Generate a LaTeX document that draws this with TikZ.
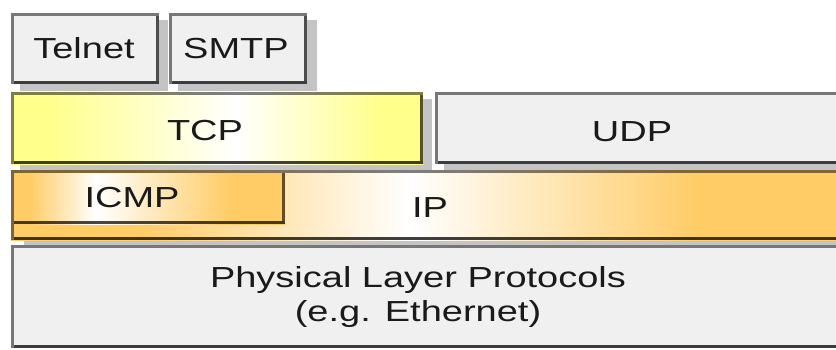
\documentclass[tikz,border=0pt]{standalone}
\usepackage{fontspec}
\setmainfont{Liberation Sans}
\usepackage{graphicx}
\definecolor{boxgray}{HTML}{F0F0F0}
\definecolor{shadowgray}{HTML}{C4C4C4}
\definecolor{tcpyellow}{HTML}{FFFF8C}
\definecolor{iporange}{HTML}{FFCC66}
\definecolor{txt}{HTML}{1A1A1A}
\pgfdeclarehorizontalshading{tcpshade}{100bp}{color(0bp)=(tcpyellow); color(29.7bp)=(tcpyellow); color(52.2bp)=(white); color(69.8bp)=(tcpyellow); color(100bp)=(tcpyellow)}
\pgfdeclarehorizontalshading{ipshade}{100bp}{color(0bp)=(iporange); color(32.7bp)=(iporange); color(48.8bp)=(white); color(66.1bp)=(iporange); color(100bp)=(iporange)}
\pgfdeclarehorizontalshading{icmpshade}{100bp}{color(0bp)=(iporange); color(27.9bp)=(iporange); color(40.1bp)=(white); color(64.8bp)=(iporange); color(100bp)=(iporange)}
\newcommand{\widetext}[1]{\scalebox{1.31}[1]{#1}}
% bevelled border: x1,y1,x2,y2
\newcommand{\bevelbox}[4]{%
  \fill[black,opacity=0.5] (#1,#2) rectangle ++(3,#4-#2);
  \fill[black,opacity=0.5] (#1+3,#2) rectangle (#3,#2+3);
  \fill[black,opacity=0.75] (#1+3,#4-3) rectangle (#3,#4);
  \fill[black,opacity=0.68] (#3-3,#2+3) rectangle (#3,#4-3);}
\begin{document}
\begin{tikzpicture}[x=1pt,y=-1pt,
  shadowbox/.style={fill=shadowgray},
  lbl/.style={text=txt, inner sep=0pt, anchor=base, font=\fontsize{29}{34}\selectfont}]
\useasboundingbox (0,0) rectangle (836,349);
\fill[white] (0,0) rectangle (836,349);
\clip (0,0) rectangle (836,349);
% ---- row 1: Telnet, SMTP
\fill[shadowbox] (20,20) rectangle (168,91);
\fill[shadowbox] (178,20) rectangle (317,91);
\fill[boxgray] (11,13) rectangle (159,84);
\bevelbox{11}{13}{159}{84}
\fill[boxgray] (169,13) rectangle (307,84);
\bevelbox{169}{13}{307}{84}
% ---- row 2: TCP, UDP
\fill[shadowbox] (20,99) rectangle (432,171);
\fill[shadowbox] (444,99) rectangle (850,171);
\shade[shading=tcpshade] (11,92) rectangle (423,164);
\bevelbox{11}{92}{423}{164}
\fill[boxgray] (435,92) rectangle (850,164);
\bevelbox{435}{92}{850}{164}
% ---- row 3: IP band with ICMP
\fill[shadowbox] (24,176) rectangle (850,245);
\shade[shading=ipshade] (11,170) rectangle (850,240);
\bevelbox{11}{170}{850}{240}
\shade[shading=icmpshade] (14,173) rectangle (285,224);
\fill[black,opacity=0.72] (14,221) rectangle (285,224);
\fill[black,opacity=0.62] (282,173) rectangle (285,221);
% ---- row 4: physical layer
\fill[boxgray] (11,245) rectangle (850,348);
\bevelbox{11}{245}{850}{348}
% ---- labels
\node[lbl] (telnet) at (84,58) {\widetext{Telnet}};
\node[lbl] (smtp) at (236,58) {\widetext{SMTP}};
\node[lbl] (tcp) at (205,140) {\widetext{TCP}};
\node[lbl] (udp) at (632,141) {\widetext{UDP}};
\node[lbl] (icmp) at (132,207) {\widetext{ICMP}};
\node[lbl] (ip) at (430,217) {\widetext{IP}};
\node[lbl] (phys1) at (418,287) {\widetext{Physical Layer Protocols}};
\node[lbl] (phys2) at (418,321) {\widetext{(e.g. Ethernet)}};
\end{tikzpicture}
\end{document}
